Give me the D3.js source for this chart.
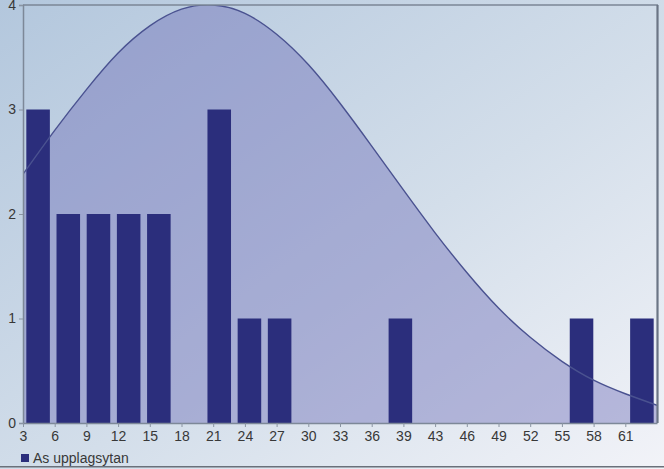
<!DOCTYPE html>
<html>
<head>
<meta charset="utf-8">
<script src="https://cdn.jsdelivr.net/npm/d3@7/dist/d3.min.js"></script>
<style>
  html, body { margin: 0; padding: 0; background: #ffffff; }
  svg { display: block; }
  text { font-family: "Liberation Sans", Arial, sans-serif; }
</style>
</head>
<body>
<svg id="chart" width="664" height="469"></svg>
<script>
// ---- data ----
const tickLabels = ["3","6","9","12","15","18","21","24","27","30","33","36","39","43","46","49","52","55","58","61"];
const binCounts = [3,2,2,2,2,0,3,1,1,0,0,0,1,0,0,0,0,0,1,0,1];
// normal-fit curve read at each tick position (0..20)
const curveValues = [2.38,2.80,3.19,3.54,3.80,3.96,4.00,3.92,3.72,3.43,3.06,2.65,2.23,1.82,1.44,1.10,0.82,0.59,0.41,0.28,0.17];
const yTicks = [0,1,2,3,4];
const seriesName = "As upplagsytan";

// ---- layout ----
const W = 664, H = 469;
const plot = { left: 23, right: 657, top: 5, bottom: 423 };

const svg = d3.select("#chart");
const defs = svg.append("defs");

const bg = defs.append("linearGradient").attr("id", "bg")
  .attr("x1", "0%").attr("y1", "0%").attr("x2", "100%").attr("y2", "100%");
bg.append("stop").attr("offset", "0%").attr("stop-color", "#b3c7dd");
bg.append("stop").attr("offset", "55%").attr("stop-color", "#d3deea");
bg.append("stop").attr("offset", "100%").attr("stop-color", "#f2f3f8");

defs.append("clipPath").attr("id", "plotClip")
  .append("rect").attr("x", plot.left).attr("y", plot.top)
  .attr("width", plot.right - plot.left).attr("height", plot.bottom - plot.top);

svg.append("rect").attr("width", W).attr("height", H).attr("fill", "url(#bg)");

// scales
const y = d3.scaleLinear().domain([0, 4]).range([plot.bottom, plot.top]);
const xLin = d3.scaleLinear().domain([0, 20]).range([plot.left, plot.right]);
const xBand = d3.scaleBand().domain(d3.range(binCounts.length))
  .range([plot.left, plot.right]).paddingInner(0.22).paddingOuter(0.11);

const gPlot = svg.append("g").attr("clip-path", "url(#plotClip)");

// area under curve
const area = d3.area()
  .x((d, i) => xLin(i)).y0(y(0)).y1(d => y(d))
  .curve(d3.curveNatural);
gPlot.append("path").datum(curveValues)
  .attr("d", area)
  .attr("fill", "rgba(105,105,180,0.42)");

// bars
gPlot.selectAll("rect.bar").data(binCounts).join("rect")
  .attr("class", "bar")
  .attr("x", (d, i) => xBand(i))
  .attr("width", xBand.bandwidth())
  .attr("y", d => y(d))
  .attr("height", d => y(0) - y(d))
  .attr("fill", "#2b2e7c");

// curve line
const line = d3.line().x((d, i) => xLin(i)).y(d => y(d)).curve(d3.curveNatural);
gPlot.append("path").datum(curveValues)
  .attr("d", line)
  .attr("fill", "none")
  .attr("stroke", "#4a5290")
  .attr("stroke-width", 1.4);

// frame lines: top and right
svg.append("line").attr("x1", plot.left).attr("x2", plot.right + 1)
  .attr("y1", plot.top).attr("y2", plot.top)
  .attr("stroke", "#7b8696").attr("stroke-width", 1.5);
svg.append("line").attr("x1", plot.right + 0.5).attr("x2", plot.right + 0.5)
  .attr("y1", plot.top).attr("y2", plot.bottom)
  .attr("stroke", "#6b7585").attr("stroke-width", 2.2);

// y axis
const yAxis = d3.axisLeft(y).tickValues(yTicks).tickFormat(d3.format("d")).tickSize(4).tickPadding(3);
const gy = svg.append("g").attr("transform", `translate(${plot.left},0)`).call(yAxis);
gy.select(".domain").attr("stroke", "#7d8898").attr("stroke-width", 1.5);
gy.selectAll(".tick line").attr("stroke", "#8a94a2");
gy.selectAll(".tick text").attr("fill", "#383838").attr("font-size", 14)
  .attr("font-family", "Liberation Sans, Arial, sans-serif");

// x axis
const xAxis = d3.axisBottom(xLin).tickValues(d3.range(tickLabels.length))
  .tickFormat(i => tickLabels[i]).tickSize(4).tickPadding(4).tickSizeOuter(0);
const gx = svg.append("g").attr("transform", `translate(0,${plot.bottom})`).call(xAxis);
gx.select(".domain").attr("stroke", "#7d8898").attr("stroke-width", 1.5);
gx.selectAll(".tick line").attr("stroke", "#8a94a2");
gx.selectAll(".tick text").attr("fill", "#383838").attr("font-size", 14)
  .attr("font-family", "Liberation Sans, Arial, sans-serif");

// legend
const lg = svg.append("g").attr("transform", "translate(21,454)");
lg.append("rect").attr("width", 8).attr("height", 8).attr("fill", "#2b2e7c");
lg.append("text").attr("x", 12).attr("y", 9).attr("font-size", 14).attr("fill", "#383838")
  .text(seriesName);

// bottom frame line
svg.append("line").attr("x1", 0).attr("x2", W).attr("y1", 466.8).attr("y2", 466.8)
  .attr("stroke", "#6a707a").attr("stroke-width", 1.5);
</script>
</body>
</html>
